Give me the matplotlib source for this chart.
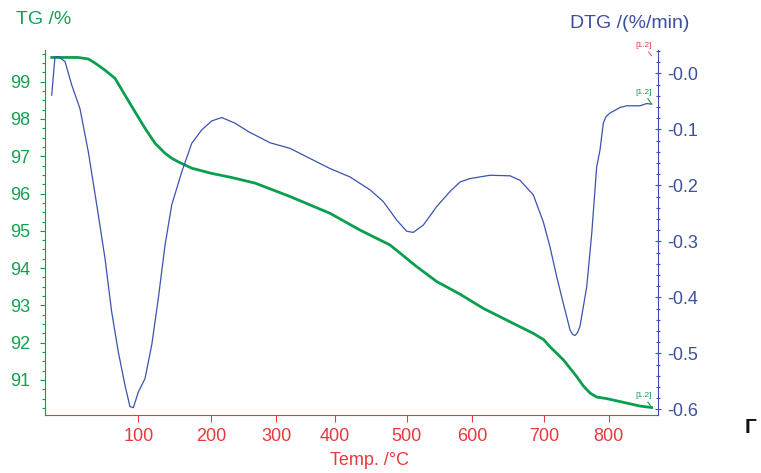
import numpy as np
import matplotlib
matplotlib.use("Agg")
import matplotlib.pyplot as plt
from matplotlib.ticker import FixedLocator, MultipleLocator, FuncFormatter

plt.rcParams['font.family'] = ['Liberation Sans', 'DejaVu Sans']

# TG curve: temperature (°C) vs mass (%)
tg_temp = [30.4, 51.5, 59.8, 65.2, 73.2, 81.3, 89.3, 97.4, 109.2, 122.9, 136.6,
           145.5, 154.8, 173.2, 200.6, 231.5, 267.6, 323.9, 392.0, 435.1, 476.8,
           515.2, 545.7, 581.3, 615.4, 662.2, 685.4, 700.0, 709.7, 730.2, 750.8,
           760.9, 771.3, 781.5, 796.9, 827.7, 848.2, 866.2]
tg_mass = [99.65, 99.65, 99.61, 99.50, 99.31, 99.09, 98.64, 98.19, 97.75, 97.35,
           97.08, 96.95, 96.85, 96.68, 96.54, 96.43, 96.28, 95.92, 95.47, 95.02,
           94.62, 94.04, 93.64, 93.30, 92.92, 92.47, 92.25, 92.08, 91.89, 91.54,
           91.09, 90.84, 90.65, 90.54, 90.50, 90.38, 90.30, 90.26]

# DTG curve: temperature (°C) vs rate (%/min)
dtg_temp = [30.4, 33.0, 35.7, 41.1, 46.5, 53.1, 59.8, 66.6, 73.2, 78.6, 83.9,
            89.3, 93.3, 96.0, 100.0, 109.2, 118.4, 127.4, 136.6, 145.8, 159.5,
            173.2, 186.9, 200.6, 216.1, 236.6, 257.2, 290.8, 323.9, 357.9, 392.0,
            421.3, 449.0, 467.5, 486.1, 500.0, 510.1, 525.3, 545.7, 566.0, 581.3,
            596.5, 624.8, 652.8, 666.8, 685.4, 699.4, 709.7, 720.0, 730.2, 740.5,
            744.3, 748.2, 752.0, 755.8, 766.2, 773.9, 781.5, 786.6, 791.7, 796.0,
            802.0, 817.4, 827.7, 848.2, 858.5, 866.2]
dtg_rate = [-0.039, 0.029, 0.030, 0.021, -0.021, -0.063, -0.140, -0.235, -0.330,
            -0.426, -0.497, -0.557, -0.595, -0.597, -0.569, -0.545, -0.485, -0.402,
            -0.307, -0.235, -0.176, -0.125, -0.101, -0.085, -0.079, -0.089, -0.104,
            -0.124, -0.134, -0.152, -0.170, -0.185, -0.208, -0.229, -0.262, -0.282,
            -0.284, -0.271, -0.238, -0.211, -0.194, -0.188, -0.182, -0.183, -0.191,
            -0.217, -0.265, -0.310, -0.363, -0.411, -0.458, -0.466, -0.468, -0.463,
            -0.452, -0.381, -0.286, -0.167, -0.137, -0.089, -0.077, -0.071, -0.061,
            -0.058, -0.058, -0.054, -0.055]

temp_ticks = [100, 200, 300, 400, 500, 600, 700, 800]

# heating is not linear in time, so the temperature axis is stretched piecewise
scale_temp = [25, 100, 200, 300, 400, 500, 600, 700, 800, 876]
scale_pos = [0, 93.3, 166.3, 231, 289.7, 361.7, 427.3, 498.7, 563.7, 613]


def fwd(t):
    return np.interp(t, scale_temp, scale_pos)


def inv(p):
    return np.interp(p, scale_pos, scale_temp)


GREEN = '#0a9f4e'
GREEN_TXT = '#14a050'
BLUE = '#3a54ad'
BLUE_TXT = '#3c4fa0'
RED = '#e8383d'

W, H = 761, 473
fig = plt.figure(figsize=(W / 100, H / 100), dpi=100)
ax = fig.add_axes([45 / W, 1 - 415 / H, 613 / W, 365 / H])
ax.set_xscale('function', functions=(fwd, inv))
ax2 = ax.twinx()

ax.plot(tg_temp, tg_mass, color=GREEN, lw=2.0, solid_joinstyle='round')
ax2.plot(dtg_temp, dtg_rate, color=BLUE, lw=0.9, solid_joinstyle='round')

ax.set_xlim(25, 876)
ax.set_ylim(90.06, 99.85)
ax2.set_ylim(-0.610, 0.0416)

ax.xaxis.set_major_locator(FixedLocator(temp_ticks))
ax.xaxis.set_minor_locator(FixedLocator([]))
ax.xaxis.set_major_formatter(FuncFormatter(lambda v, _: f"{v:.0f}"))
ax.yaxis.set_major_locator(MultipleLocator(1))
ax.yaxis.set_minor_locator(MultipleLocator(0.25))
ax.yaxis.set_major_formatter(FuncFormatter(lambda v, _: f"{v:.0f}" if v < 99.5 else ""))
ax2.yaxis.set_major_locator(MultipleLocator(0.1))
ax2.yaxis.set_minor_locator(MultipleLocator(0.02))
ax2.yaxis.set_major_formatter(FuncFormatter(lambda v, _: f"-{abs(v):.1f}" if v < 0.01 else ""))

for a in (ax, ax2):
    a.spines['top'].set_visible(False)
ax.spines['right'].set_visible(False)
ax2.spines['left'].set_visible(False)
ax2.spines['bottom'].set_visible(False)
ax.spines['left'].set_color(GREEN)
ax.spines['bottom'].set_color(RED)
ax2.spines['right'].set_color(BLUE)

ax.tick_params(axis='x', colors=RED, labelsize=13, length=5, width=0.8, pad=4)
ax.tick_params(axis='y', which='major', colors=GREEN, labelcolor=GREEN_TXT,
               labelsize=13, length=3.5, width=0.8, pad=7)
ax.tick_params(axis='y', which='minor', colors=GREEN, length=2, width=0.8)
ax2.tick_params(axis='y', which='major', colors=BLUE, labelcolor=BLUE_TXT,
                labelsize=13, direction='inout', length=4, width=0.8, pad=5)
ax2.tick_params(axis='y', which='minor', colors=BLUE, direction='inout',
                length=2.5, width=0.8)

# end-of-segment markers
ax2.annotate('[1.2]', xy=(tg_temp[-1], 0.031), xytext=(-6, 5),
             textcoords='offset points', color=RED, fontsize=6, ha='center',
             va='bottom', arrowprops=dict(arrowstyle='-', color=RED, lw=0.6,
                                          shrinkA=0, shrinkB=0))
ax2.annotate('[1.2]', xy=(dtg_temp[-1], dtg_rate[-1]), xytext=(-6, 6),
             textcoords='offset points', color=GREEN_TXT, fontsize=6,
             ha='center', va='bottom',
             arrowprops=dict(arrowstyle='-', color=GREEN, lw=0.8,
                             shrinkA=0, shrinkB=0))
ax.annotate('[1.2]', xy=(tg_temp[-1], tg_mass[-1]), xytext=(-6, 6),
            textcoords='offset points', color=GREEN_TXT, fontsize=6,
            ha='center', va='bottom',
            arrowprops=dict(arrowstyle='-', color=GREEN, lw=0.8,
                            shrinkA=0, shrinkB=0))

fig.text(16 / W, 1 - 19 / H, 'TG /%', color=GREEN_TXT, fontsize=14,
         ha='left', va='center')
fig.text(570 / W, 1 - 23 / H, 'DTG /(%/min)', color=BLUE_TXT, fontsize=14,
         ha='left', va='center')
fig.text(370 / W, 1 - 460 / H, 'Temp. /°C', color=RED, fontsize=13,
         ha='center', va='center')
fig.text(745 / W, 1 - 427 / H, 'Г', color='#111111', fontsize=15,
         fontweight='bold', ha='left', va='center')

fig.savefig('out.png', dpi=100)
